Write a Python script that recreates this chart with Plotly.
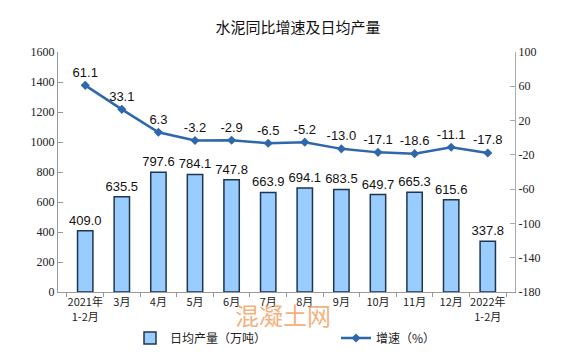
import plotly.graph_objects as go

categories = ["2021年<br>1-2月", "3月", "4月", "5月", "6月", "7月", "8月", "9月", "10月", "11月", "12月", "2022年<br>1-2月"]
daily_output = [409.0, 635.5, 797.6, 784.1, 747.8, 663.9, 694.1, 683.5, 649.7, 665.3, 615.6, 337.8]
growth = [61.1, 33.1, 6.3, -3.2, -2.9, -6.5, -5.2, -13.0, -17.1, -18.6, -11.1, -17.8]
left_ticks = [0, 200, 400, 600, 800, 1000, 1200, 1400, 1600]
right_ticks = [-180, -140, -100, -60, -20, 20, 60, 100]

cjk = "Noto Sans CJK SC"
serif = "Liberation Serif"
sans = "Liberation Sans"

# page body has an 8px margin; figure size compensates
W, H, OFF = 566, 351, 8

fig = go.Figure()
fig.add_trace(go.Bar(
    x=categories, y=daily_output, name="日均产量（万吨）",
    marker=dict(color="#99CCFF", line=dict(color="#1F3550", width=1.5)),
    width=0.42,
    text=[f"{v:.1f}" for v in daily_output], textposition="outside",
    constraintext="none",
    textfont=dict(family=sans, size=13, color="#111"),
    cliponaxis=False,
))
fig.add_trace(go.Scatter(
    x=categories, y=growth, name="增速（%）", yaxis="y2",
    mode="lines+markers+text",
    line=dict(color="#2E67AC", width=2.5),
    marker=dict(symbol="diamond", size=7, color="#2E67AC"),
    text=[f"{v:.1f}" for v in growth], textposition="top center",
    textfont=dict(family=sans, size=13, color="#111"),
    cliponaxis=False,
))

fig.update_layout(
    width=W, height=H,
    margin=dict(l=58 - OFF, r=59, t=52 - OFF, b=67, autoexpand=False),
    paper_bgcolor="white", plot_bgcolor="white",
    title=dict(text="水泥同比增速及日均产量", x=(298 - OFF) / W, xanchor="center",
               y=1 - (28 - OFF) / H, yanchor="middle",
               font=dict(family=cjk, size=15, color="#111")),
    showlegend=True,
    legend=dict(orientation="h", xref="container", yref="container", x=122 / W, y=1 - (338 - OFF) / H,
                xanchor="left", yanchor="middle", entrywidth=161, entrywidthmode="pixels",
                font=dict(family=cjk, size=12, color="#222"), bgcolor="rgba(0,0,0,0)"),
    xaxis=dict(type="category", showline=True, linecolor="#999", linewidth=1, tickangle=0,
               ticks="outside", tickson="boundaries", ticklen=4, tickcolor="#999", automargin=False,
               tickfont=dict(family=cjk, size=11, color="#222"), showgrid=False),
    yaxis=dict(range=[0, 1600], tickvals=left_ticks, showline=True, linecolor="#999", linewidth=1,
               ticks="inside", ticklen=5, tickcolor="#999", showgrid=False, zeroline=False, automargin=False,
               tickfont=dict(family=serif, size=12, color="#222")),
    yaxis2=dict(range=[-180, 100], overlaying="y", side="right", tickvals=right_ticks,
                ticktext=[str(t) for t in right_ticks], showline=True, linecolor="#aaa", linewidth=1,
                ticks="inside", ticklen=5, tickcolor="#aaa", showgrid=False, zeroline=False, automargin=False,
                tickfont=dict(family=serif, size=12, color="#222")),
    annotations=[dict(text="混凝土网", xref="paper", yref="paper", x=(283 - 58) / 457, y=-(314 - 292) / 240,
                      xanchor="center", yanchor="middle", showarrow=False,
                      font=dict(family=cjk, size=24, color="rgba(240,150,80,0.75)"))],
)

fig.write_html("out.html")
